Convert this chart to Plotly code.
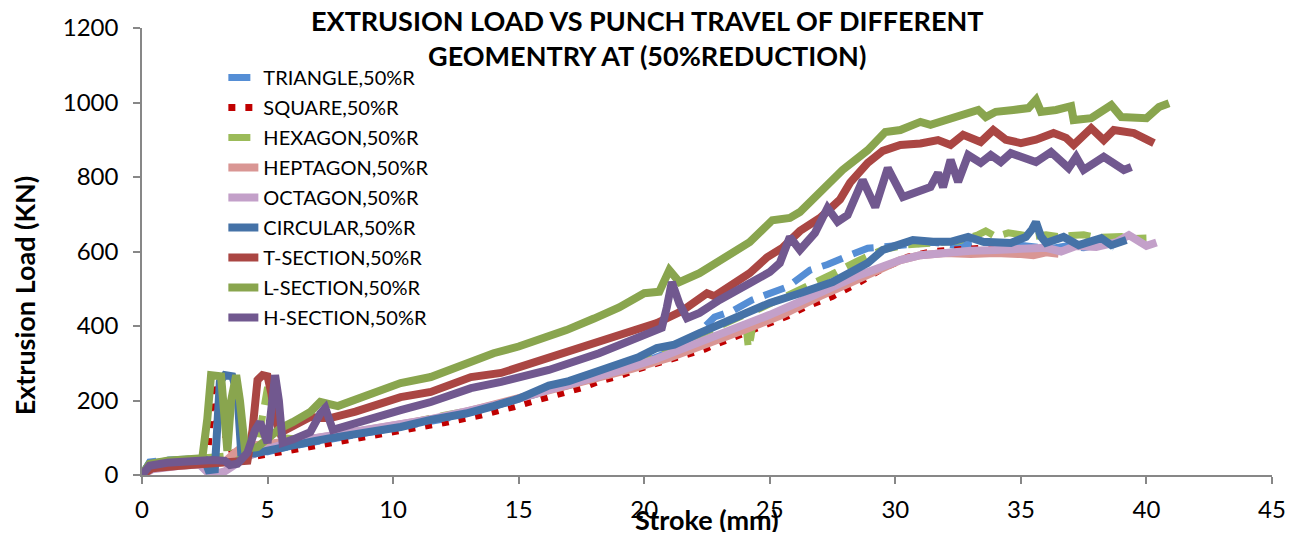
import plotly.graph_objects as go

# stroke (mm) / load (kN)
tri_x = [0, 0.3, 1.0, 2.0, 2.6, 3.0, 3.5, 4.0, 5.0, 6.0, 7.5, 9.0, 10.5, 12.0, 13.5, 15.0, 16.5, 18.0, 19.5, 21.0,
         22.0, 22.8, 23.5, 24.3, 25.0, 25.7, 26.6, 27.3, 28.0, 28.9, 29.5, 30.5, 31.5, 32.5, 33.5, 34.5, 35.5, 36.2,
         36.8, 37.5, 38.2, 38.7]
tri_y = [0, 35, 40, 42, 44, 45, 48, 52, 62, 78, 95, 112, 130, 150, 175, 205, 232, 258, 290, 330,
         370, 424, 440, 470, 490, 505, 550, 565, 585, 609, 612, 620, 625, 615, 625, 620, 612, 608,
         615, 610, 620, 612]

sq_x = [0, 0.4, 1.5, 2.6, 2.8, 3.0, 3.4, 3.7, 4.5, 5.5, 6.5, 7.4, 8.5, 9.9, 10.5, 11.4, 12.0, 13.5, 14.1, 14.8,
        15.5, 16.2, 16.9, 17.6, 18.2, 19.0, 19.6, 20.3, 21.0, 21.7, 22.4, 23.0, 24.3, 25.7, 26.4, 27.5, 28.5,
        29.5, 30.5, 31.5, 32.5, 33.6, 34.5]
sq_y = [0, 20, 28, 35, 250, 130, 100, 40, 50, 62, 72, 81, 95, 113, 121, 129, 140, 161, 169, 183,
        197, 210, 220, 236, 252, 266, 282, 295, 311, 325, 338, 355, 389, 427, 451, 480, 515,
        555, 585, 600, 605, 609, 605]

hex_x = [0, 0.3, 1.0, 2.0, 2.5, 3.0, 3.5, 4.0, 4.6, 5.0, 5.3, 5.6, 6.5, 8.0, 10.0, 12.0, 14.0, 16.0, 18.0, 20.0,
         22.0, 23.5, 24.0, 24.15, 24.25, 24.4, 25.5, 26.5, 27.5, 28.5, 29.5, 30.5, 31.5, 32.5, 33.3, 33.6, 34.0,
         34.5, 35.0, 35.5, 36.0, 36.5, 37.0, 37.5, 38.0, 38.5, 39.0, 39.5, 40.0]
hex_y = [0, 30, 38, 42, 45, 48, 52, 60, 80, 236, 150, 100, 95, 110, 130, 160, 185, 225, 265, 320,
         370, 415, 430, 340, 370, 440, 475, 505, 540, 575, 605, 618, 622, 628, 645, 655, 640,
         650, 645, 640, 645, 640, 643, 645, 638, 640, 640, 635, 636]

hep_x = [0, 0.4, 1.5, 2.5, 3.0, 3.3, 3.7, 4.0, 4.5, 5.5, 6.5, 7.5, 9.0, 10.5, 12.0, 13.5, 15.0, 16.5, 18.0, 19.5,
         21.0, 22.5, 24.0, 25.5, 26.2, 27.0, 28.0, 29.0, 30.2, 31.0, 32.0, 33.0, 34.0, 35.0, 35.5, 36.0, 36.5]
hep_y = [0, 20, 25, 28, 30, 35, 60, 75, 80, 85, 95, 105, 120, 135, 155, 180, 205, 232, 258, 285,
         315, 350, 390, 430, 456, 480, 510, 540, 577, 590, 596, 593, 596, 593, 590, 598, 594]

oct_x = [0, 0.4, 1.5, 2.3, 2.6, 3.0, 3.3, 3.7, 4.2, 5.0, 6.0, 7.0, 8.5, 10.0, 11.5, 13.0, 14.5, 16.0, 17.5, 19.0,
         20.5, 22.0, 23.5, 25.0, 26.2, 27.5, 28.5, 29.5, 30.2, 31.0, 32.0, 33.0, 34.0, 35.0, 36.0, 36.6, 37.2,
         38.0, 38.8, 39.3, 39.7, 40.0, 40.4]
oct_y = [0, 15, 25, 28, 8, 5, 10, 30, 50, 70, 90, 100, 115, 130, 150, 172, 195, 225, 252, 280,
         312, 350, 390, 430, 465, 505, 535, 560, 577, 590, 598, 602, 604, 606, 610, 600, 615,
         612, 625, 644, 625, 615, 624]

circ_x = [0, 0.3, 1.0, 2.0, 2.5, 2.65, 2.9, 3.1, 3.3, 3.6, 3.8, 3.95, 4.5, 5.1, 6.0, 6.7, 7.5, 8.5, 9.5, 10.3,
          11.5, 12.9, 14.0, 15.0, 16.2, 17.0, 18.0, 19.3, 19.8, 20.5, 21.2, 22.2, 23.0, 24.2, 25.0, 26.2, 27.5,
          28.9, 29.5, 30.0, 30.7, 31.5, 32.2, 32.9, 33.5, 34.6, 35.2, 35.45, 35.6, 35.8, 36.0, 36.7, 37.3, 38.2,
          38.6, 39.2]
circ_y = [0, 30, 36, 40, 40, 13, 15, 250, 268, 265, 220, 60, 58, 67, 82, 89, 99, 110, 122, 129,
          148, 165, 185, 205, 240, 252, 275, 305, 317, 341, 350, 381, 405, 438, 462, 488, 518,
          569, 604, 615, 631, 626, 626, 639, 626, 623, 639, 660, 679, 640, 623, 639, 617, 636,
          617, 631]

t_x = [0, 0.4, 1.5, 2.5, 3.5, 4.2, 4.4, 4.6, 4.8, 5.0, 5.15, 5.3, 5.5, 6.3, 6.7, 7.1, 7.5, 8.5, 10.3, 11.5,
       13.1, 14.3, 16.2, 16.9, 18.5, 20.5, 21.5, 22.2, 22.5, 22.8, 23.5, 24.2, 24.9, 25.5, 26.2, 27.0, 27.8,
       28.2, 28.9, 29.5, 30.2, 31.0, 31.7, 32.2, 32.7, 33.4, 33.9, 34.4, 35.0, 35.6, 36.3, 36.8, 37.1, 37.5,
       37.8, 38.3, 38.7, 39.5, 40.3]
t_y = [0, 18, 25, 30, 35, 38, 120, 255, 268, 265, 220, 150, 113, 138, 156, 153, 153, 170, 209, 223,
       263, 274, 314, 327, 365, 408, 440, 478, 488, 480, 510, 542, 585, 610, 655, 690, 740,
       785, 838, 870, 886, 890, 899, 886, 913, 894, 926, 900, 891, 900, 918, 905, 886, 915,
       931, 899, 926, 918, 891]

l_x = [0, 0.3, 1.0, 2.0, 2.4, 2.6, 2.75, 3.15, 3.4, 3.55, 3.75, 3.9, 4.1, 4.6, 5.5, 6.0, 6.7, 7.1, 7.4, 7.8,
       9.0, 10.3, 11.5, 12.3, 13.5, 14.0, 15.0, 16.2, 16.9, 18.0, 19.0, 20.0, 20.6, 21.0, 21.4, 22.2, 23.0,
       24.2, 25.1, 25.8, 26.2, 27.0, 27.9, 28.9, 29.6, 30.2, 31.0, 31.4, 32.0, 32.5, 33.3, 33.6, 34.0, 34.7,
       35.3, 35.6, 35.8, 36.4, 37.0, 37.1, 37.8, 38.6, 39.0, 40.0, 40.5, 40.9]
l_y = [0, 30, 38, 43, 45, 150, 268, 265, 65, 200, 268, 200, 70, 75, 125, 142, 169, 196, 192, 185,
       215, 247, 263, 282, 314, 327, 345, 371, 389, 420, 450, 488, 492, 550, 518, 542, 575,
       625, 684, 690, 706, 760, 819, 872, 921, 926, 948, 940, 953, 962, 980, 961, 975, 980,
       985, 1007, 975, 980, 990, 953, 958, 993, 961, 958, 988, 998]

h_x = [0, 0.3, 1.0, 2.0, 2.8, 3.3, 3.5, 3.8, 4.2, 4.5, 4.7, 5.0, 5.15, 5.3, 5.45, 5.6, 6.0, 6.7, 7.1, 7.3,
       7.6, 8.5, 10.3, 11.5, 13.1, 14.3, 16.2, 18.2, 19.5, 20.7, 20.9, 21.1, 21.4, 21.7, 22.2, 23.0, 24.2,
       25.0, 25.4, 25.8, 26.2, 26.8, 27.3, 27.7, 28.1, 28.7, 29.2, 29.7, 30.3, 31.0, 31.4, 31.7, 31.9, 32.2,
       32.5, 32.9, 33.4, 33.8, 34.2, 34.6, 35.1, 35.6, 36.2, 36.9, 37.2, 37.5, 38.3, 39.1, 39.4]
h_y = [0, 25, 33, 38, 40, 38, 27, 30, 60, 120, 142, 86, 180, 268, 200, 86, 95, 115, 165, 180,
       121, 140, 174, 196, 233, 250, 282, 327, 360, 395, 450, 518, 460, 421, 435, 470, 515,
       545, 569, 639, 604, 650, 717, 680, 698, 792, 719, 824, 746, 760, 773, 811, 773, 846,
       787, 859, 838, 859, 840, 864, 850, 840, 867, 824, 854, 819, 854, 819, 827]

series = [
    ('TRIANGLE,50%R', tri_x, tri_y, '#558ED5', '22px,11px', 7),
    ('SQUARE,50%R', sq_x, sq_y, '#C00000', '7px,10px', 7),
    ('HEXAGON,50%R', hex_x, hex_y, '#9BBB59', '22px,11px', 7),
    ('HEPTAGON,50%R', hep_x, hep_y, '#D99694', 'solid', 8),
    ('OCTAGON,50%R', oct_x, oct_y, '#C3A0C9', 'solid', 8),
    ('CIRCULAR,50%R', circ_x, circ_y, '#4572A7', 'solid', 8),
    ('T-SECTION,50%R', t_x, t_y, '#AA4643', 'solid', 8),
    ('L-SECTION,50%R', l_x, l_y, '#89A54E', 'solid', 8),
    ('H-SECTION,50%R', h_x, h_y, '#71588F', 'solid', 8),
]

fig = go.Figure()
for i, (name, xs, ys, col, dash, w) in enumerate(series):
    fig.add_trace(go.Scatter(x=xs, y=ys, mode='lines', name=name, legendgroup=str(i),
                             line=dict(color=col, width=w, dash=dash)))

axis_style = dict(showline=True, linecolor='#878787', linewidth=1.5, ticks='outside', ticklen=7,
                  tickcolor='#878787', tickwidth=1.5, showgrid=False, zeroline=False, automargin=False,
                  tickfont=dict(size=24, color='black'))

fig.update_xaxes(range=[0, 45], dtick=5, tick0=0, ticklabelstandoff=5, **axis_style)
fig.update_yaxes(range=[0, 1200], dtick=200, tick0=0, ticklabelstandoff=10, **axis_style)

# the page body adds an 8px margin all round, so the figure is 16px smaller than the window
fig.update_layout(
    width=1281, height=524,
    margin=dict(l=134, r=17, t=20, b=57, autoexpand=False),
    plot_bgcolor='white', paper_bgcolor='white',
    font=dict(family='Lato', color='black'),
    legend=dict(x=0.072, y=0.933, xanchor='left', yanchor='top', font=dict(size=20),
                bgcolor='rgba(0,0,0,0)', tracegroupgap=1),
    annotations=[
        dict(text='<b>EXTRUSION LOAD VS PUNCH TRAVEL OF DIFFERENT<br>GEOMENTRY AT (50%REDUCTION)</b>',
             xref='paper', yref='paper', x=0.447, y=1.058, xanchor='center', yanchor='top',
             showarrow=False, font=dict(size=27)),
        dict(text='<b>Extrusion Load (KN)</b>', xref='paper', yref='paper', x=-0.104, y=0.403,
             xanchor='center', yanchor='middle', textangle=-90, showarrow=False, font=dict(size=27)),
        dict(text='<b>Stroke (mm)</b>', xref='paper', yref='paper', x=0.5, y=-0.099,
             xanchor='center', yanchor='middle', showarrow=False, font=dict(size=27)),
    ],
)

fig.write_html("out.html")
